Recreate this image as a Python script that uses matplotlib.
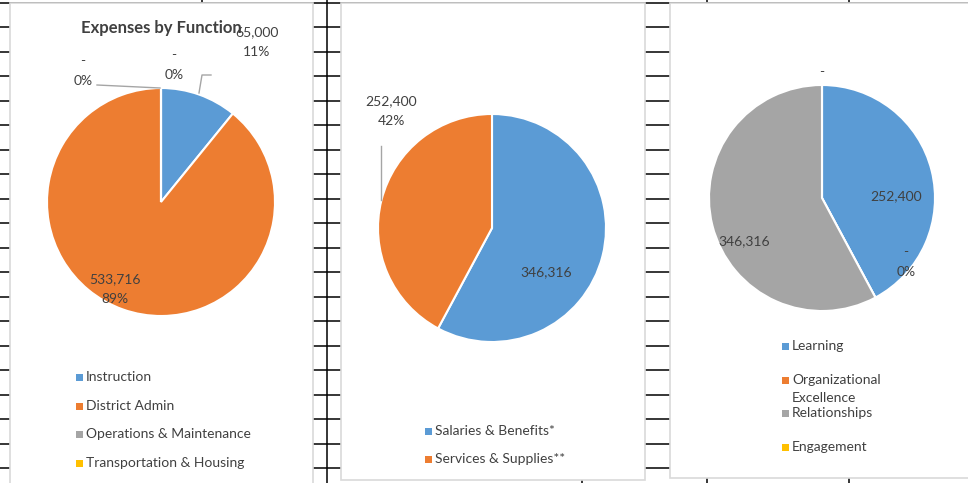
import matplotlib.pyplot as plt
from matplotlib.patches import Rectangle
import numpy as np

plt.rcParams['font.family'] = ['Lato', 'DejaVu Sans']

# expenses by function
func_labels = ['Instruction', 'District Admin', 'Operations & Maintenance', 'Transportation & Housing']
func_values = [65000, 533716, 0, 0]

# expenses by type
type_labels = ['Salaries & Benefits*', 'Services & Supplies**']
type_values = [346316, 252400]

# expenses by priority
prio_labels = ['Learning', 'Organizational\nExcellence', 'Relationships', 'Engagement']
prio_values = [252400, 0, 346316, 0]

colors = ['#5B9BD5', '#ED7D31', '#A5A5A5', '#FFC000']
txt = '#404040'

W, H = 968, 483
fig = plt.figure(figsize=(W / 100, H / 100), dpi=100)
bg = fig.add_axes([0, 0, 1, 1], zorder=0)
bg.set_xlim(0, W)
bg.set_ylim(H, 0)
bg.axis('off')

# worksheet grid
for y in np.linspace(3, 468, 20):
    bg.plot([0, W], [y, y], color='black', lw=1.1, zorder=1)
bg.plot([327, 327], [0, H], color='black', lw=1.1, zorder=1)
for x, y0, y1 in [(202, 0, 4), (582, 478, H), (707, 0, 4), (849, 0, 4), (707, 476, H), (849, 476, H)]:
    bg.plot([x, x], [y0, y1], color='black', lw=1.1, zorder=1)

# chart areas
for x0, y0, x1, y1 in [(10, 3, 313, 495), (341, 3, 645, 480), (670, 3, 980, 478)]:
    bg.add_patch(Rectangle((x0, y0), x1 - x0, y1 - y0, facecolor='white',
                           edgecolor='#D9D9D9', lw=1.2, zorder=2))


def fmt(v):
    return '-' if v == 0 else f'{v:,.0f}'


def pct(v, vals):
    return f'{round(100 * v / sum(vals)):.0f}%'


def pie_at(cx, cy, r, vals, cols):
    ax = fig.add_axes([(cx - r) / W, (H - cy - r) / H, 2 * r / W, 2 * r / H], zorder=1)
    ax.pie(vals, colors=cols, startangle=90, counterclock=False,
           wedgeprops=dict(edgecolor='white', linewidth=1.5))
    ax.set_xlim(-1, 1)
    ax.set_ylim(-1, 1)
    ax.set_aspect('equal')
    return ax


pie_1 = pie_at(161, 202, 114, func_values, colors)
pie_2 = pie_at(492, 228, 114, type_values, colors)
pie_3 = pie_at(822, 198, 113, prio_values, colors)

# labels, leader lines and legends go on top of the pies
top = fig.add_axes([0, 0, 1, 1], zorder=5)
top.set_xlim(0, W)
top.set_ylim(H, 0)
top.axis('off')
top.patch.set_alpha(0)


def legend_at(x, ys, labels, cols):
    for y, lab, c in zip(ys, labels, cols):
        top.add_patch(Rectangle((x - 3.5, y - 3.5), 7, 7, facecolor=c, edgecolor='none'))
        lines = lab.split('\n')
        for k, s in enumerate(lines):
            top.text(x + 7, y + 18 * k, s, color=txt, fontsize=10, va='center', ha='left')


def lbl(x, y, s):
    top.text(x, y, s, color=txt, fontsize=10, ha='center', va='center', linespacing=1.8)


# chart 1
top.text(161, 28, 'Expenses by Function', fontsize=12, fontweight='bold', color=txt,
         ha='center', va='center')
lbl(257, 42, fmt(func_values[0]) + '\n' + pct(func_values[0], func_values))
lbl(174, 65, fmt(func_values[3]) + '\n' + pct(func_values[3], func_values))
lbl(83, 71, fmt(func_values[2]) + '\n' + pct(func_values[2], func_values))
lbl(115, 289, fmt(func_values[1]) + '\n' + pct(func_values[1], func_values))
top.plot([199, 202, 211], [93, 75, 75], color='#A5A5A5', lw=1)
top.plot([97, 160], [85, 88], color='#A5A5A5', lw=1)
legend_at(79, [377, 406, 434, 463], func_labels, colors)

# chart 2
lbl(391, 111, fmt(type_values[1]) + '\n' + pct(type_values[1], type_values))
top.plot([381, 381], [146, 200], color='#A5A5A5', lw=1)
lbl(546, 272, fmt(type_values[0]))
legend_at(428, [431, 459], type_labels, colors)

# chart 3
lbl(822, 72, fmt(prio_values[3]))
lbl(896, 196, fmt(prio_values[0]))
lbl(906, 262, fmt(prio_values[1]) + '\n' + pct(prio_values[1], prio_values))
lbl(744, 241, fmt(prio_values[2]))
legend_at(785, [346, 380, 413, 447], prio_labels, colors)

fig.savefig('out.png', dpi=100)
